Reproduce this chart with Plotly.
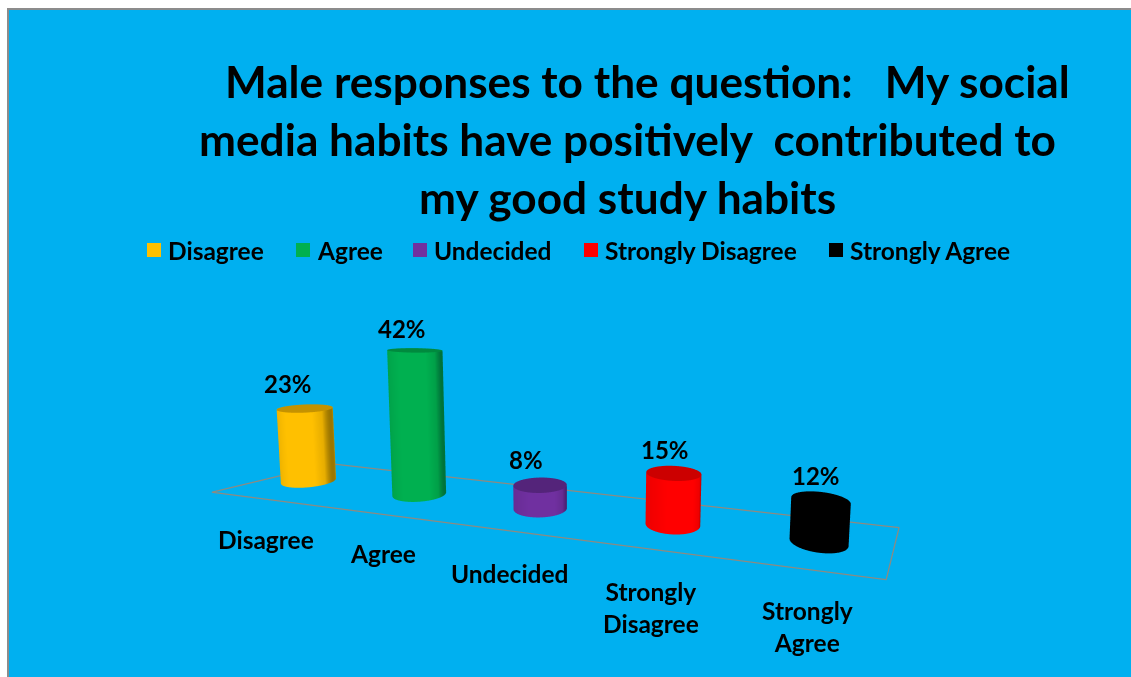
import numpy as np
import plotly.graph_objects as go

# Survey results
categories = ["Disagree", "Agree", "Undecided", "Strongly Disagree", "Strongly Agree"]
axis_labels = ["Disagree", "Agree", "Undecided", "Strongly<br>Disagree", "Strongly<br>Agree"]
percent_values = [23, 42, 8, 15, 12]

# Colours: side, shaded edge, left edge, cap
side_colors = ["#FFC000", "#00B050", "#7030A0", "#FF0000", "#000000"]
edge_colors = ["#9C7600", "#00733A", "#4A2070", "#B00000", "#000000"]
left_colors = ["#E8AE00", "#00A048", "#672C93", "#EE0000", "#000000"]
cap_colors = ["#C49200", "#008A3E", "#54247A", "#CC0000", "#000000"]

BACKGROUND = "#00B0F0"
FRAME = "#8C8C8C"
FLOOR_LINE = "#8E8A80"
FONT = "Lato"

# World units: one category step along x, one floor depth along y, one value unit along z
STEP = 0.634
DEPTH = 0.82
VALUE_UNIT = 0.0178
X_ORIGIN = -2.45
Y_ORIGIN = 3.256
BASE_VALUE = 1.5

FLOOR_X = [-0.413, 4.375]
SKEW = 0.2              # sideways run of the floor's short edges, in category steps
Y_CENTER = 0.5
RADIUS = 0.122 / STEP
RADIUS_Y = 0.165 / DEPTH
LEAN_X = -0.0004        # cylinder lean, category steps per value unit
LEAN_Y = -0.0024        # cylinder lean, floor depths per value unit
VIEW_ANGLE = np.radians(16.4)

X_RANGE = [-0.8, 5.2]
Y_RANGE = [-0.2, 1.2]
Z_RANGE = [1.0, 46.0]

# Pixel nudges for the text labels
LABEL_XSHIFT = [8, 5, 0, -6, -13]
LABEL_YSHIFT = [-25, -23, -26, -25, -23]
VALUE_XSHIFT = [-17, -13, -14, -9, -5]
VALUE_YSHIFT = [8, 5, 9, 7, 8]

fig = go.Figure()


def flat_scale(color):
    return [[0, color], [1, color]]


def lean_x(z):
    return LEAN_X * (z - BASE_VALUE)


def lean_y(z):
    return LEAN_Y * (z - BASE_VALUE)


FLAT_LIGHT = dict(ambient=1, diffuse=0, specular=0, fresnel=0, roughness=1)
theta = np.linspace(0, 2 * np.pi, 97)
ring = np.linspace(0, 1, 2)
for i, value in enumerate(percent_values):
    levels = np.array([BASE_VALUE, value], dtype=float)
    tt, zz = np.meshgrid(theta, levels)
    shade = (np.cos(tt - VIEW_ANGLE) + 1) / 2
    fig.add_trace(go.Surface(
        x=i + RADIUS * np.cos(tt) + lean_x(zz),
        y=Y_CENTER + RADIUS_Y * np.sin(tt) + lean_y(zz),
        z=zz, surfacecolor=shade, cmin=0, cmax=1, showscale=False,
        colorscale=[[0, left_colors[i]], [0.35, side_colors[i]], [0.82, side_colors[i]],
                    [0.94, left_colors[i]], [1, edge_colors[i]]],
        lighting=FLAT_LIGHT, hoverinfo="skip", name=categories[i],
    ))
    rr, tc = np.meshgrid(ring, theta)
    fig.add_trace(go.Surface(
        x=i + RADIUS * rr * np.cos(tc) + lean_x(value),
        y=Y_CENTER + RADIUS_Y * rr * np.sin(tc) + lean_y(value),
        z=np.full_like(rr, float(value)), surfacecolor=np.zeros_like(rr), showscale=False,
        colorscale=flat_scale(cap_colors[i]),
        lighting=FLAT_LIGHT, hoverinfo="skip", name=categories[i],
    ))

# Floor outline
x0, x1 = FLOOR_X
fig.add_trace(go.Scatter3d(
    x=[x0, x1, x1 + SKEW, x0 + SKEW, x0],
    y=[0, 0, 1, 1, 0],
    z=[BASE_VALUE] * 5,
    mode="lines", line=dict(color=FLOOR_LINE, width=2.5),
    hoverinfo="skip", showlegend=False,
))

# Value labels above each cylinder, category labels in front of the floor
annotations = []
for i, value in enumerate(percent_values):
    annotations.append(dict(
        x=i + lean_x(value), y=Y_CENTER + lean_y(value), z=value, text=f"{value}%", showarrow=False,
        yanchor="bottom", xshift=VALUE_XSHIFT[i], yshift=VALUE_YSHIFT[i],
        font=dict(family=FONT, size=24, color="#000", weight=700),
    ))
    annotations.append(dict(
        x=i, y=0, z=BASE_VALUE, text=axis_labels[i], showarrow=False,
        yanchor="top", xshift=LABEL_XSHIFT[i], yshift=LABEL_YSHIFT[i],
        font=dict(family=FONT, size=24.5, color="#000", weight=700),
    ))

# Title lines and key sit in page coordinates
title_lines = ["Male responses to the question:\u00a0\u00a0\u00a0My social",
               "media habits have positively\u00a0\u00a0contributed to",
               "my good study habits"]
title_x = [647, 627, 627]
title_y = [80, 138, 197]
W, H = 1131, 677
page = []
for text, px, py in zip(title_lines, title_x, title_y):
    page.append(dict(x=px / W, y=1 - py / H, xref="paper", yref="paper", text=f"<b>{text}</b>",
                     showarrow=False, xanchor="center", yanchor="middle",
                     font=dict(family=FONT, size=44.2, color="#000")))
key_x = [147, 296, 413, 584, 829]
shapes = [dict(type="rect", xref="paper", yref="paper", x0=8 / W, x1=1.02, y0=-0.02, y1=1 - 9 / H,
               fillcolor=BACKGROUND, line=dict(color=FRAME, width=2), layer="below")]
for name, color, px in zip(categories, side_colors, key_x):
    shapes.append(dict(type="rect", xref="paper", yref="paper", x0=px / W, x1=(px + 14) / W,
                       y0=1 - 257 / H, y1=1 - 243 / H, fillcolor=color, line=dict(width=0), layer="below"))
    page.append(dict(x=(px + 19) / W, y=1 - 250 / H, xref="paper", yref="paper", text=name,
                     showarrow=False, xanchor="left", yanchor="middle",
                     font=dict(family=FONT, size=24.5, color="#000", weight=700)))

hidden = dict(visible=False, showgrid=False, zeroline=False, showticklabels=False, showspikes=False)

# Camera expressed in box coordinates; the eye sits low, right of the floor's middle
extent = np.array([(X_RANGE[1] - X_RANGE[0]) * STEP,
                   (Y_RANGE[1] - Y_RANGE[0]) * DEPTH,
                   (Z_RANGE[1] - Z_RANGE[0]) * VALUE_UNIT])
box_mid = np.array([X_ORIGIN + sum(X_RANGE) / 2 * STEP,
                    Y_ORIGIN + sum(Y_RANGE) / 2 * DEPTH,
                    (sum(Z_RANGE) / 2 - BASE_VALUE) * VALUE_UNIT])
scale = extent[0]
eye_world = np.array([-0.015, 0.0, 1.007])
forward = np.array([-np.sin(VIEW_ANGLE), np.cos(VIEW_ANGLE), -0.05])
eye = (eye_world - box_mid) / scale
center = (eye_world + 3.8 * forward - box_mid) / scale

fig.update_layout(
    width=W, height=H, margin=dict(l=0, r=0, t=0, b=0),
    paper_bgcolor="#FFFFFF", showlegend=False,
    shapes=shapes, annotations=page,
    scene=dict(
        domain=dict(x=[0, 1], y=[0, 1]),
        bgcolor="rgba(0,0,0,0)",
        dragmode="orbit",
        xaxis=dict(range=X_RANGE, **hidden),
        yaxis=dict(range=Y_RANGE, **hidden),
        zaxis=dict(range=Z_RANGE, **hidden),
        aspectmode="manual",
        aspectratio=dict(x=1.0, y=extent[1] / scale, z=extent[2] / scale),
        camera=dict(eye=dict(x=eye[0], y=eye[1], z=eye[2]),
                    center=dict(x=center[0], y=center[1], z=center[2]),
                    up=dict(x=-0.0412, y=-0.0121, z=1),
                    projection=dict(type="perspective")),
        annotations=annotations,
    ),
)
fig.write_html("out.html")
